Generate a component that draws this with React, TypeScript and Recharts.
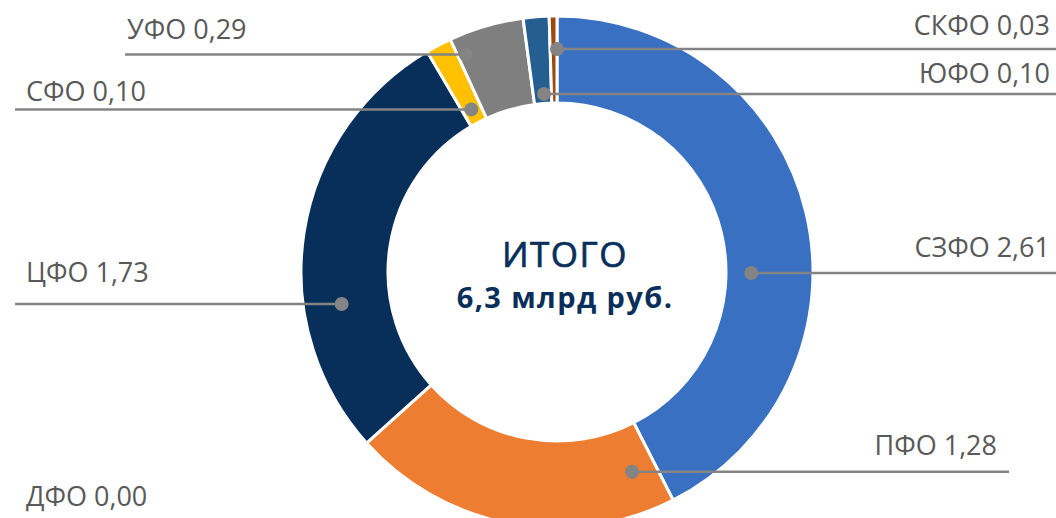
import React from 'react';
import { PieChart, Pie, Cell } from 'recharts';

const regions = ['СЗФО', 'ПФО', 'ДФО', 'ЦФО', 'СФО', 'УФО', 'ЮФО', 'СКФО'];
const amounts = [2.61, 1.28, 0.0, 1.73, 0.1, 0.29, 0.1, 0.03];
const colors = ['#3A70C2', '#ED7D31', '#A5A5A5', '#082F5A', '#FFC000', '#7F7F7F', '#255E91', '#9E480E'];
const totalLabel = 'ИТОГО';
const totalValue = '6,3 млрд руб.';

const data = regions.map((name, i) => ({ name, value: amounts[i] }));

const W = 1056;
const H = 518;
const CX = 557;
const CY = 272;

// label layout: position of the dot inside its sector (t = fraction of the arc, r = fraction of ring width)
type LabelLayout = { t: number; r: number; lineTo: number; textX: number; anchor: 'start' | 'end'; gap: number; line: boolean };
const layout: Record<string, LabelLayout> = {
  'СЗФО': { t: 0.59, r: 0.29, lineTo: W, textX: 1050, anchor: 'end', gap: 16, line: true },
  'ПФО': { t: 0.085, r: 0.51, lineTo: 1009, textX: 997, anchor: 'end', gap: 17, line: true },
  'ДФО': { t: 0, r: 0, lineTo: 15, textX: 26, anchor: 'start', gap: 0, line: false },
  'ЦФО': { t: 0.33, r: 0.56, lineTo: 15, textX: 26, anchor: 'start', gap: 22, line: true },
  'СФО': { t: 0.46, r: 0.17, lineTo: 15, textX: 26, anchor: 'start', gap: 8, line: true },
  'УФО': { t: 0.11, r: 0.77, lineTo: 125, textX: 127, anchor: 'start', gap: 15, line: true },
  'ЮФО': { t: 0.59, r: 0.11, lineTo: W, textX: 1050, anchor: 'end', gap: 11, line: true },
  'СКФО': { t: 1.0, r: 0.62, lineTo: W, textX: 1050, anchor: 'end', gap: 14, line: true },
};

const fmt = (v: number) => v.toFixed(2).replace('.', ',');
const RAD = Math.PI / 180;

const renderLabel = (props: any) => {
  const { cx, cy, startAngle, endAngle, innerRadius, outerRadius, index } = props;
  const name = regions[index];
  const value = amounts[index];
  const L = layout[name];
  const inner = typeof innerRadius === 'number' ? innerRadius : 170;
  const outer = typeof outerRadius === 'number' ? outerRadius : 255;
  const a = startAngle + L.t * (endAngle - startAngle);
  const rr = inner + L.r * (outer - inner);
  const x = cx + rr * Math.cos(a * RAD);
  const y = cy - rr * Math.sin(a * RAD);
  const text = `${name} ${fmt(value)}`;
  if (!L.line) {
    return (
      <text key={`l-${name}`} x={L.textX} y={506} textAnchor={L.anchor} fill="#595959" fontSize={27} fontFamily="'Open Sans', sans-serif">
        {text}
      </text>
    );
  }
  return (
    <g key={`l-${name}`}>
      <line x1={x} y1={y} x2={L.lineTo} y2={y} stroke="#848484" strokeWidth={2.5} />
      <circle cx={x} cy={y} r={7} fill="#848484" />
      <text x={L.textX} y={y - L.gap} textAnchor={L.anchor} fill="#595959" fontSize={27} fontFamily="'Open Sans', sans-serif">
        {text}
      </text>
    </g>
  );
};

export default function App() {
  return (
    <div style={{ position: 'absolute', left: 0, top: 0, width: W, height: H, background: '#fff' }}>
      <PieChart width={W} height={H} margin={{ top: 0, right: 0, bottom: 0, left: 0 }}>
        <Pie
          data={data}
          dataKey="value"
          nameKey="name"
          cx={CX}
          cy={CY}
          innerRadius={169}
          outerRadius={256}
          startAngle={90}
          endAngle={-270}
          stroke="#ffffff"
          strokeWidth={3}
          label={renderLabel}
          labelLine={false}
          isAnimationActive={false}
        >
          {data.map((d, i) => (
            <Cell key={d.name} fill={colors[i]} />
          ))}
        </Pie>
        <text x={565} y={267} textAnchor="middle" fill="#082F5A" stroke="#082F5A" strokeWidth={0.7} fontSize={35} letterSpacing={1.5} fontFamily="'Open Sans', sans-serif">
          {totalLabel}
        </text>
        <text x={565} y={308} textAnchor="middle" fill="#082F5A" fontSize={29} fontWeight="bold" letterSpacing={1.4} fontFamily="'Open Sans', sans-serif">
          {totalValue}
        </text>
      </PieChart>
    </div>
  );
}
